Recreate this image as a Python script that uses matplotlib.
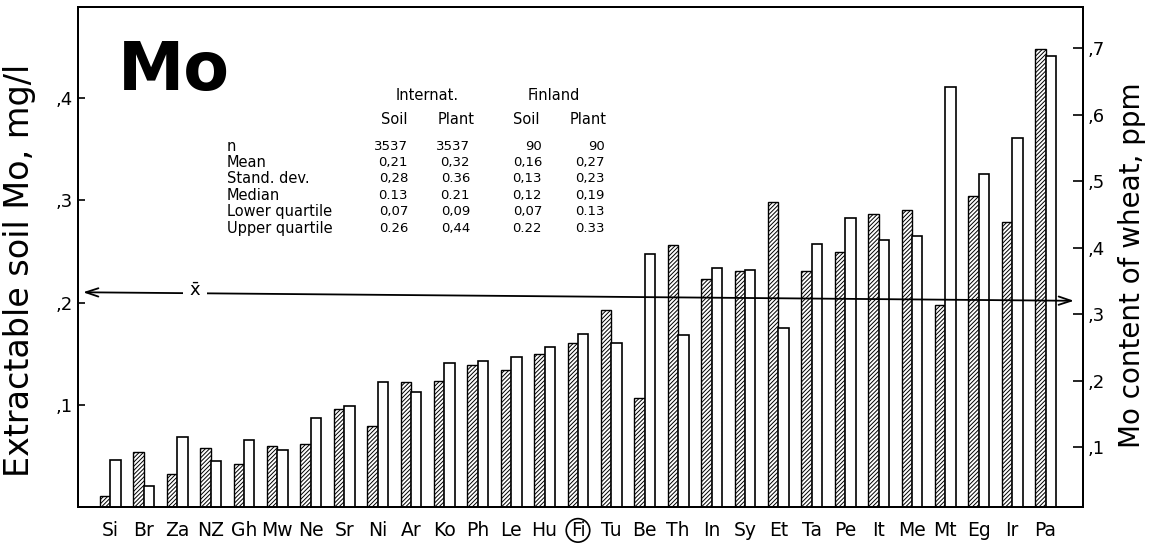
import matplotlib.pyplot as plt
import numpy as np
from matplotlib.transforms import blended_transform_factory

plt.rcParams['font.family'] = 'DejaVu Sans'
plt.rcParams['hatch.linewidth'] = 0.7

# country codes, ordered by wheat Mo
countries = ['Si', 'Br', 'Za', 'NZ', 'Gh', 'Mw', 'Ne', 'Sr', 'Ni', 'Ar', 'Ko', 'Ph', 'Le', 'Hu', 'Fi',
             'Tu', 'Be', 'Th', 'In', 'Sy', 'Et', 'Ta', 'Pe', 'It', 'Me', 'Mt', 'Eg', 'Ir', 'Pa']
# extractable soil Mo, mg/l (left axis)
soil_mo = [0.011, 0.054, 0.032, 0.058, 0.042, 0.060, 0.062, 0.096, 0.079, 0.122, 0.123, 0.139, 0.134, 0.150, 0.16,
           0.193, 0.107, 0.256, 0.223, 0.231, 0.298, 0.231, 0.249, 0.287, 0.290, 0.198, 0.304, 0.279, 0.448]
# Mo content of wheat, ppm (right axis)
plant_mo = [0.081, 0.042, 0.115, 0.079, 0.111, 0.095, 0.144, 0.162, 0.198, 0.183, 0.227, 0.230, 0.236, 0.251, 0.27,
            0.256, 0.390, 0.269, 0.369, 0.367, 0.279, 0.406, 0.445, 0.411, 0.417, 0.642, 0.511, 0.565, 0.688]

# summary table
stat_names = ['n', 'Mean', 'Stand. dev.', 'Median', 'Lower quartile', 'Upper quartile']
intl_soil = ['3537', '0,21', '0,28', '0.13', '0,07', '0.26']
intl_plant = ['3537', '0,32', '0.36', '0.21', '0,09', '0,44']
fin_soil = ['90', '0,16', '0,13', '0,12', '0,07', '0.22']
fin_plant = ['90', '0,27', '0,23', '0,19', '0.13', '0.33']
mean_soil = 0.21
mean_plant = 0.32

W, H = 1156, 552
fig = plt.figure(figsize=(W / 100, H / 100), dpi=100)
ax = fig.add_axes([78 / W, 1 - 507 / H, (1083 - 78) / W, 500 / H])
ax2 = ax.twinx()

x = np.arange(len(countries))
bw = 0.31
ax.bar(x - bw / 2, soil_mo, bw, color='white', edgecolor='black', hatch='////////', linewidth=1.0, zorder=2)
ax2.bar(x + bw / 2, plant_mo, bw, color='white', edgecolor='black', linewidth=1.2, zorder=2)

ax.set_xlim(-0.97, 29.12)
ax.set_ylim(0, 0.489)
ax2.set_ylim(0.0098, 0.762)

ax.set_yticks([0.1, 0.2, 0.3, 0.4])
ax.set_yticklabels([',1', ',2', ',3', ',4'])
ax2.set_yticks([0.1, 0.2, 0.3, 0.4, 0.5, 0.6, 0.7])
ax2.set_yticklabels([',1', ',2', ',3', ',4', ',5', ',6', ',7'])
ax.tick_params(axis='y', direction='in', length=5, width=1.2, labelsize=13, pad=4)
ax2.tick_params(axis='y', direction='in', length=7, width=1.2, labelsize=13, pad=3)

ax.set_xticks(x)
ax.set_xticklabels(countries)
ax.tick_params(axis='x', length=0, labelsize=13.5, pad=10)
fi_label = ax.get_xticklabels()[countries.index('Fi')]
fi_label.set_bbox(dict(boxstyle='circle,pad=0.12', fc='none', ec='black', lw=1.2))

for a in (ax, ax2):
    for s in a.spines.values():
        s.set_linewidth(1.4)

ax.set_ylabel('Extractable soil Mo, mg/l', fontsize=24)
ax.yaxis.set_label_coords(-0.042, 0.474)
ax2.set_ylabel('Mo content of wheat, ppm', fontsize=20, rotation=90)
ax2.yaxis.set_label_coords(1.035, 0.484)

# mean line: soil mean on the left scale, wheat mean on the right scale
left_tr = blended_transform_factory(ax.transAxes, ax.transData)
right_tr = blended_transform_factory(ax2.transAxes, ax2.transData)
ax2.annotate('', xy=(0.991, mean_plant), xycoords=right_tr,
             xytext=(0.005, mean_soil), textcoords=left_tr,
             arrowprops=dict(arrowstyle='<->,head_length=0.9,head_width=0.3', lw=1.3,
                             color='black', shrinkA=0, shrinkB=0), zorder=5)
ax2.text(0.1164, mean_soil + 0.0015, r'$\bar{\mathrm{x}}$', transform=left_tr, ha='center', va='center',
         fontsize=13, zorder=6, bbox=dict(fc='white', ec='none', pad=4))

ax2.text(0.040, 0.834, 'Mo', transform=ax.transAxes, fontsize=48, fontweight='bold', va='baseline')


def ftext(px, py, s, size=9.5, **kw):
    fig.text(px / W, 1 - py / H, s, va='center', fontsize=size, **kw)


ftext(427, 96, 'Internat.', size=10.5, ha='center')
ftext(554, 96, 'Finland', size=10.5, ha='center')
for cx, s in zip([394, 456, 526, 588], ['Soil', 'Plant', 'Soil', 'Plant']):
    ftext(cx, 120, s, size=10.5, ha='center')
for i, name in enumerate(stat_names):
    ry = 146 + i * 16.4
    ftext(227, ry, name, size=10.5, ha='left')
    for rx, col in zip([408, 470, 542, 605], [intl_soil, intl_plant, fin_soil, fin_plant]):
        ftext(rx, ry, col[i], ha='right')

fig.savefig('out.png', dpi=100)
